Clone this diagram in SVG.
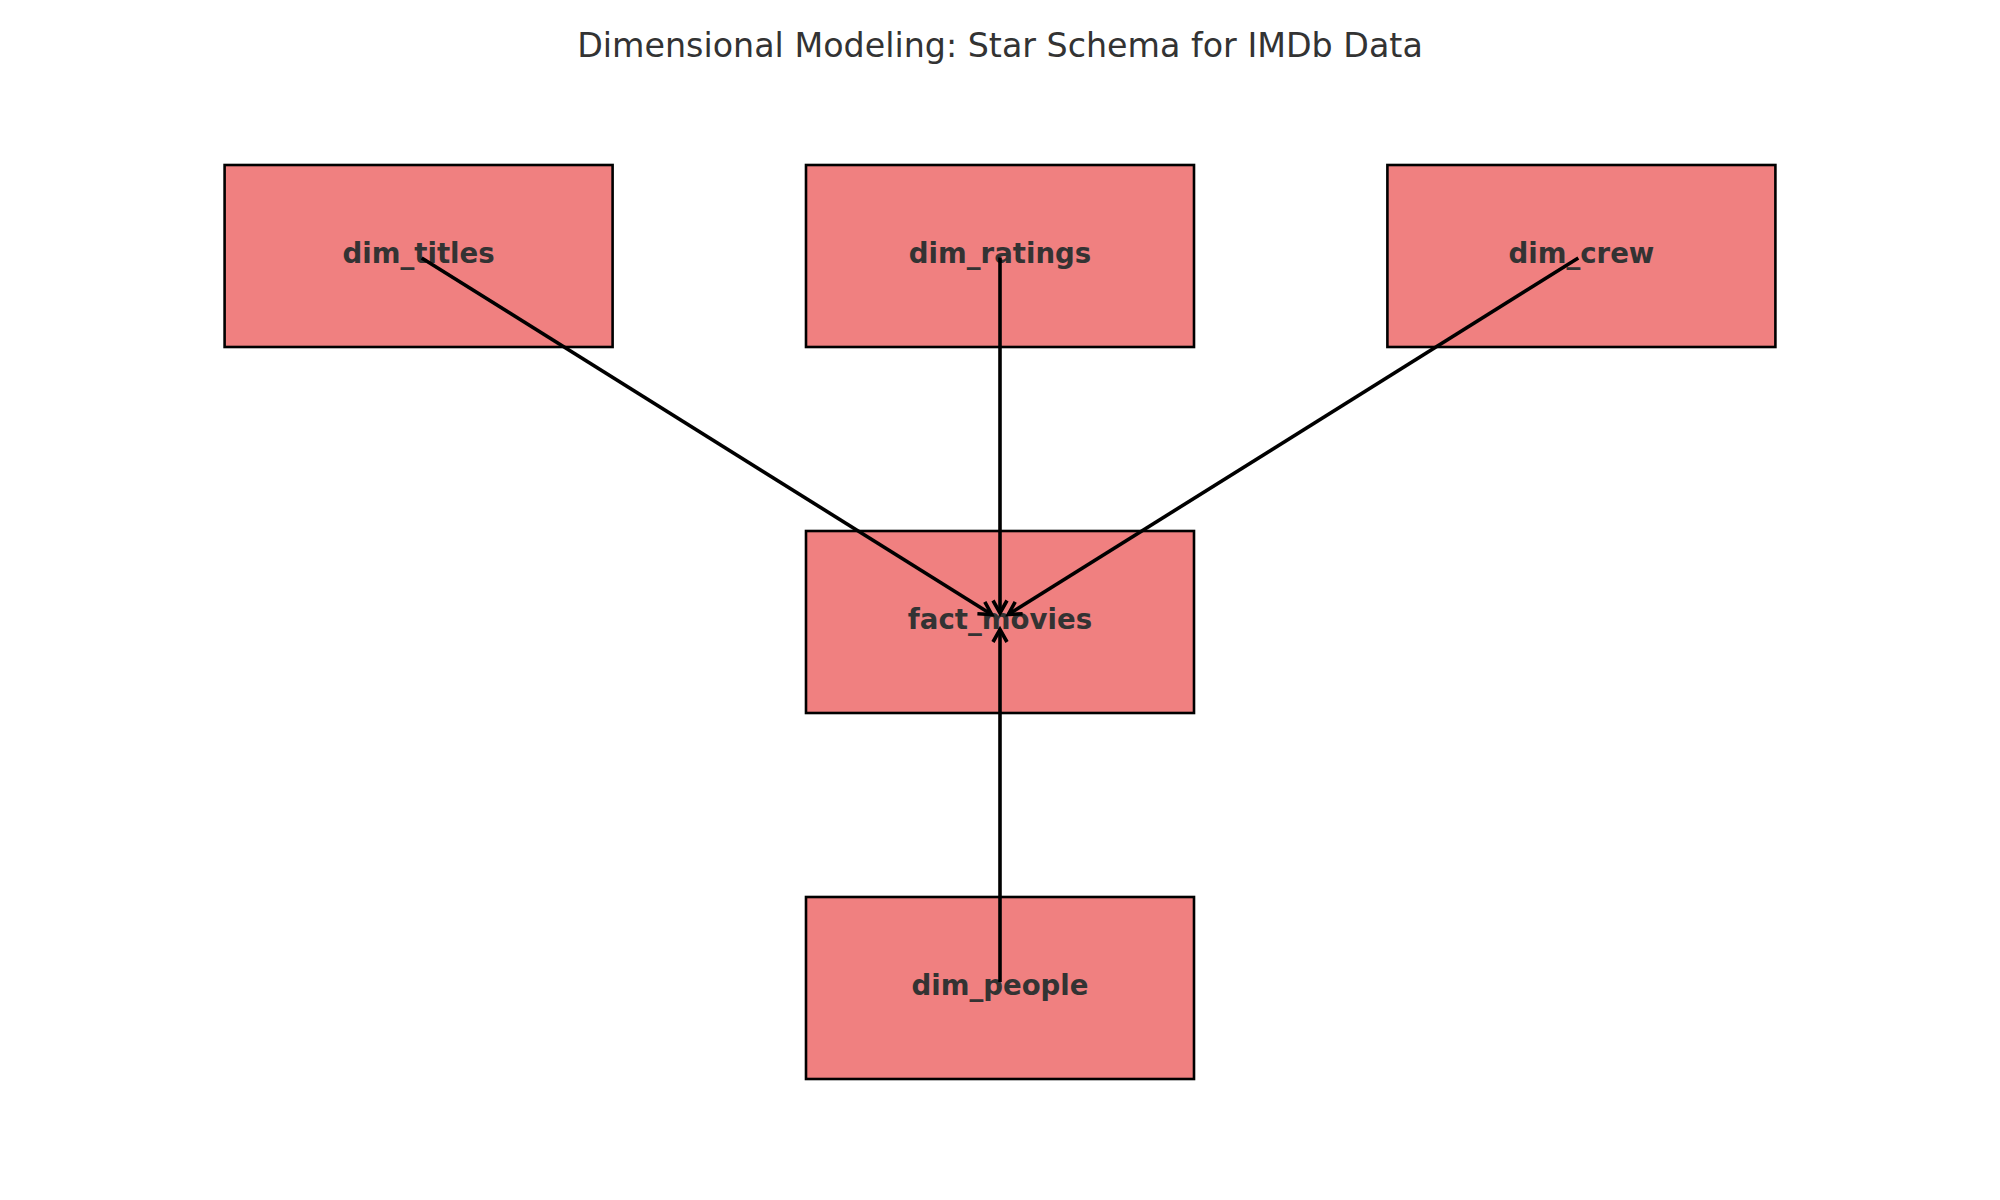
<svg xmlns="http://www.w3.org/2000/svg" width="2000" height="1200" viewBox="0 0 2000 1200">
  <style>
    .box { fill: #F08080; stroke: #000000; stroke-width: 2.6; }
    .label { font-family: "DejaVu Sans", sans-serif; font-weight: bold; font-size: 27.6px; fill: #333333; text-anchor: middle; }
    .title { font-family: "DejaVu Sans", sans-serif; font-size: 33.3px; fill: #333333; text-anchor: middle; }
    .edge { stroke: #000000; stroke-width: 3.6; fill: none; marker-end: url(#arrow); }
  </style>
  <defs>
    <marker id="arrow" markerUnits="userSpaceOnUse" markerWidth="30" markerHeight="30" viewBox="-20 -15 30 30" refX="0" refY="0" orient="auto" overflow="visible">
      <path d="M-12.5,-7 L0,0 L-12.5,7" fill="none" stroke="#000000" stroke-width="3.6" stroke-linejoin="miter"/>
    </marker>
  </defs>
  <rect width="2000" height="1200" fill="#FFFFFF"/>
  <text class="title" x="1000" y="56.7">Dimensional Modeling: Star Schema for IMDb Data</text>

  <g id="dim_titles">
    <rect class="box" x="224.6" y="165" width="388" height="182"/>
    <text class="label" x="418.6" y="263.3">dim_titles</text>
  </g>
  <g id="dim_ratings">
    <rect class="box" x="806" y="165" width="388" height="182"/>
    <text class="label" x="1000" y="263.3">dim_ratings</text>
  </g>
  <g id="dim_crew">
    <rect class="box" x="1387.4" y="165" width="388" height="182"/>
    <text class="label" x="1581.4" y="263.3">dim_crew</text>
  </g>
  <g id="fact_movies">
    <rect class="box" x="806" y="531" width="388" height="182"/>
    <text class="label" x="1000" y="629.3">fact_movies</text>
  </g>
  <g id="dim_people">
    <rect class="box" x="806" y="897" width="388" height="182"/>
    <text class="label" x="1000" y="995.3">dim_people</text>
  </g>

  <g id="connectors">
    <line class="edge" x1="421.7" y1="258" x2="991.7" y2="614.5"/>
    <line class="edge" x1="1000" y1="257.5" x2="1000" y2="613"/>
    <line class="edge" x1="1578.3" y1="258" x2="1008.3" y2="614.5"/>
    <line class="edge" x1="1000" y1="982" x2="1000" y2="629.5"/>
  </g>
</svg>
